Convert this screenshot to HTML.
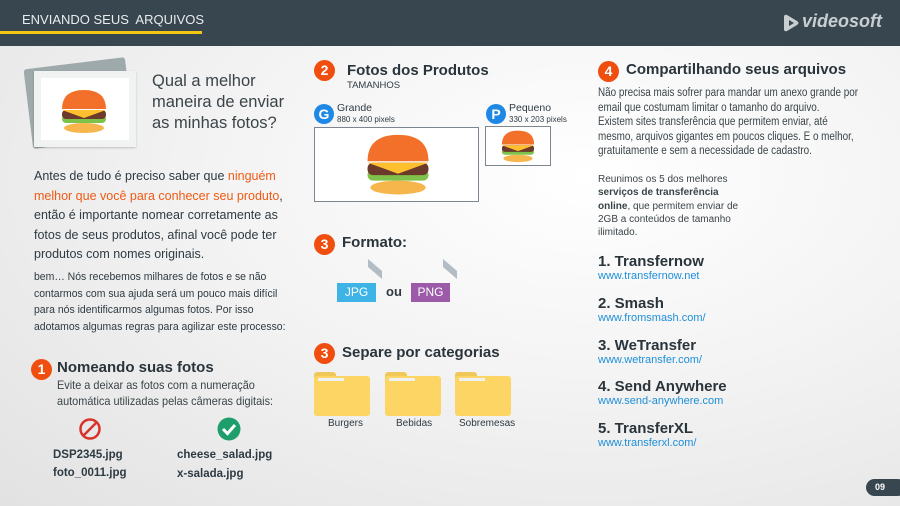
<!DOCTYPE html>
<html><head><meta charset="utf-8">
<style>
*{margin:0;padding:0;box-sizing:border-box}
body{width:900px;height:506px;overflow:hidden;font-family:"Liberation Sans",sans-serif;color:#2e3a42;position:relative;background:radial-gradient(ellipse at 65% 35%,#ffffff 0%,#f3f3f3 45%,#e2e2e2 100%)}
.a{position:absolute;white-space:nowrap}
.n{transform-origin:0 0}
.hdr{position:absolute;left:0;top:0;width:900px;height:46px;background:#37464f}
.num{position:absolute;width:21px;height:21px;border-radius:50%;background:#f04e0f;color:#fff;font-weight:bold;font-size:14px;text-align:center;line-height:21px}
.bl{position:absolute;width:20px;height:20px;border-radius:50%;background:#1e88e5;color:#fff;font-weight:bold;font-size:14px;text-align:center;line-height:20px}
.h{font-weight:bold;font-size:15px;color:#2a343b}
.link{color:#1e8fd8;font-size:11px}
.folder{position:absolute;width:56px;height:44px}
.folder .tab{position:absolute;left:0;top:0;width:22px;height:8px;background:#f0c85a;border-radius:3px 3px 0 0}
.folder .body{position:absolute;left:0;top:4px;width:56px;height:40px;background:#fcd565;border-radius:3px}
.folder .pap{position:absolute;left:4px;top:6px;width:26px;height:3px;background:#eef0f2}
</style></head><body>
<div class="hdr"></div>
<div class="a" style="left:22px;top:12px;color:#e9ecee;font-size:13px">ENVIANDO SEUS&nbsp; ARQUIVOS</div>
<div class="a" style="left:0;top:31px;width:202px;height:3px;background:#f3c614"></div>
<div class="a" style="left:802px;top:11px;color:#c9ced1;font-size:18px;font-weight:bold;font-style:italic">videosoft</div>
<svg class="a" style="left:781px;top:13px" width="20" height="20" viewBox="0 0 20 20"><path d="M3 4 Q3 1 6 2 L16 8 Q19 10 16 12 L6 18 Q3 19 3 16Z" fill="#c9ced1"/><path d="M8 7 L13 10 L8 13Z" fill="#37464f"/></svg>

<div class="a" style="left:28px;top:63px;width:102px;height:80px;background:#9ea9ab;transform:rotate(-7deg);border-radius:3px"></div>
<div class="a" style="left:34px;top:71px;width:102px;height:76px;background:#fff;border:7px solid #f1f3f3;box-shadow:0 1px 2px rgba(0,0,0,.2)"></div>
<svg class="a" style="left:58px;top:88px" width="52" height="46" viewBox="0 0 52 46"><ellipse cx="26" cy="40" rx="20" ry="5" fill="#f6b64c"/><rect x="4" y="27" width="44" height="8" rx="4" fill="#7fc24a"/><rect x="4" y="22" width="44" height="9" rx="4" fill="#6b3a2a"/><path d="M4 22 L48 22 L26 30Z" fill="#ffbf2e"/><path d="M4 21 Q4 2 26 2 Q48 2 48 21Z" fill="#f2702a"/></svg>
<div class="a" style="left:152px;top:71px;font-size:16.5px;line-height:21px;color:#3a4449">Qual a melhor<br>maneira de enviar<br>as minhas fotos?</div>

<div class="a" style="left:34px;top:167px;font-size:12.5px;line-height:19.5px;color:#2e3a42">Antes de tudo é preciso saber que <span style="color:#f05a14">ninguém</span><br><span style="color:#f05a14">melhor que você para conhecer seu produto</span>,<br>então é importante nomear corretamente as<br>fotos de seus produtos, afinal você pode ter<br>produtos com nomes originais.</div>
<div class="a" style="left:34px;top:269px;font-size:11px;line-height:16.5px;color:#2e3a42;transform:scaleX(.95);transform-origin:0 0">bem… Nós recebemos milhares de fotos e se não<br>contarmos com sua ajuda será um pouco mais difícil<br>para nós identificarmos algumas fotos. Por isso<br>adotamos algumas regras para agilizar este processo:</div>

<div class="num" style="left:31px;top:359px">1</div>
<div class="a h" style="left:57px;top:359px">Nomeando suas fotos</div>
<div class="a n" style="left:57px;top:377px;font-size:12px;line-height:16px;color:#3a4449;transform:scaleX(.91)">Evite a deixar as fotos com a numeração<br>automática utilizadas pelas câmeras digitais:</div>
<svg class="a" style="left:78px;top:417px" width="24" height="24"><circle cx="12" cy="12" r="9.5" fill="none" stroke="#d9322b" stroke-width="2.5"/><line x1="5.5" y1="18.5" x2="18.5" y2="5.5" stroke="#d9322b" stroke-width="2.5"/></svg>
<svg class="a" style="left:217px;top:417px" width="24" height="24"><circle cx="12" cy="12" r="11.5" fill="#1e9e6a"/><path d="M6 12 L10.5 16.5 L18 8" fill="none" stroke="#fff" stroke-width="3"/></svg>
<div class="a" style="left:53px;top:446px;font-size:11.5px;font-weight:bold;line-height:18px">DSP2345.jpg<br>foto_0011.jpg</div>
<div class="a" style="left:177px;top:446px;font-size:11.5px;font-weight:bold;line-height:19px">cheese_salad.jpg<br>x-salada.jpg</div>

<div class="num" style="left:314px;top:60px">2</div>
<div class="a h" style="left:347px;top:62px">Fotos dos Produtos</div>
<div class="a" style="left:347px;top:80px;font-size:9.5px">TAMANHOS</div>
<div class="bl" style="left:314px;top:104px">G</div>
<div class="a" style="left:337px;top:102px;font-size:10.5px">Grande</div>
<div class="a" style="left:337px;top:115px;font-size:8px">880 x 400 pixels</div>
<div class="a" style="left:314px;top:127px;width:165px;height:75px;background:#fff;border:1px solid #7d8590"></div>
<svg class="a" style="left:362px;top:132px" width="72" height="64" viewBox="0 0 52 46"><ellipse cx="26" cy="40" rx="20" ry="5" fill="#f6b64c"/><rect x="4" y="27" width="44" height="8" rx="4" fill="#7fc24a"/><rect x="4" y="22" width="44" height="9" rx="4" fill="#6b3a2a"/><path d="M4 22 L48 22 L26 30Z" fill="#ffbf2e"/><path d="M4 21 Q4 2 26 2 Q48 2 48 21Z" fill="#f2702a"/></svg>
<div class="bl" style="left:486px;top:104px">P</div>
<div class="a" style="left:509px;top:102px;font-size:10.5px">Pequeno</div>
<div class="a" style="left:509px;top:115px;font-size:8px">330 x 203 pixels</div>
<div class="a" style="left:485px;top:126px;width:66px;height:40px;background:#fff;border:1px solid #7d8590"></div>
<svg class="a" style="left:499px;top:129px" width="38" height="34" viewBox="0 0 52 46"><ellipse cx="26" cy="40" rx="20" ry="5" fill="#f6b64c"/><rect x="4" y="27" width="44" height="8" rx="4" fill="#7fc24a"/><rect x="4" y="22" width="44" height="9" rx="4" fill="#6b3a2a"/><path d="M4 22 L48 22 L26 30Z" fill="#ffbf2e"/><path d="M4 21 Q4 2 26 2 Q48 2 48 21Z" fill="#f2702a"/></svg>

<div class="num" style="left:314px;top:234px">3</div>
<div class="a h" style="left:342px;top:234px">Formato:</div>
<svg class="a" style="left:367px;top:258px" width="16" height="22"><path d="M1 1 L15 13 L15 21 L1 9Z" fill="#b3bcc3"/></svg>
<svg class="a" style="left:442px;top:258px" width="16" height="22"><path d="M1 1 L15 13 L15 21 L1 9Z" fill="#b3bcc3"/></svg>
<div class="a" style="left:337px;top:283px;width:39px;height:19px;background:#3db3e6;color:#fff;font-size:12px;text-align:center;line-height:19px">JPG</div>
<div class="a" style="left:386px;top:284px;font-size:13px;font-weight:bold">ou</div>
<div class="a" style="left:411px;top:283px;width:39px;height:19px;background:#9c5aa8;color:#fff;font-size:12px;text-align:center;line-height:19px">PNG</div>

<div class="num" style="left:314px;top:343px">3</div>
<div class="a h" style="left:342px;top:344px">Separe por categorias</div>
<div class="folder" style="left:314px;top:372px"><div class="tab"></div><div class="body"></div><div class="pap"></div></div>
<div class="folder" style="left:385px;top:372px"><div class="tab"></div><div class="body"></div><div class="pap"></div></div>
<div class="folder" style="left:455px;top:372px"><div class="tab"></div><div class="body"></div><div class="pap"></div></div>
<div class="a" style="left:328px;top:418px;font-size:10px">Burgers</div>
<div class="a" style="left:396px;top:418px;font-size:10px">Bebidas</div>
<div class="a" style="left:459px;top:418px;font-size:10px">Sobremesas</div>

<div class="num" style="left:598px;top:61px">4</div>
<div class="a h" style="left:626px;top:61px">Compartilhando seus arquivos</div>
<div class="a n" style="left:598px;top:86px;font-size:11.5px;line-height:14.5px;color:#3a4449;transform:scaleX(.86)">Não precisa mais sofrer para mandar um anexo grande por<br>email que costumam limitar o tamanho do arquivo.<br>Existem sites transferência que permitem enviar, até<br>mesmo, arquivos gigantes em poucos cliques. E o melhor,<br>gratuitamente e sem a necessidade de cadastro.</div>
<div class="a" style="left:598px;top:173px;font-size:10px;line-height:13.3px;color:#3a4449">Reunimos os 5 dos melhores<br><b>serviços de transferência</b><br><b>online</b>, que permitem enviar de<br>2GB a conteúdos de tamanho<br>ilimitado.</div>

<div class="a h" style="left:598px;top:253px">1. Transfernow</div>
<div class="a link" style="left:598px;top:270px">www.transfernow.net</div>
<div class="a h" style="left:598px;top:295px">2. Smash</div>
<div class="a link" style="left:598px;top:312px">www.fromsmash.com/</div>
<div class="a h" style="left:598px;top:337px">3. WeTransfer</div>
<div class="a link" style="left:598px;top:354px">www.wetransfer.com/</div>
<div class="a h" style="left:598px;top:378px">4. Send Anywhere</div>
<div class="a link" style="left:598px;top:395px">www.send-anywhere.com</div>
<div class="a h" style="left:598px;top:420px">5. TransferXL</div>
<div class="a link" style="left:598px;top:437px">www.transferxl.com/</div>

<div class="a" style="left:866px;top:479px;width:40px;height:17px;background:#37464f;border-radius:9px;color:#fff;font-size:9px;font-weight:bold;padding-left:9px;line-height:17px">09</div>
</body></html>
